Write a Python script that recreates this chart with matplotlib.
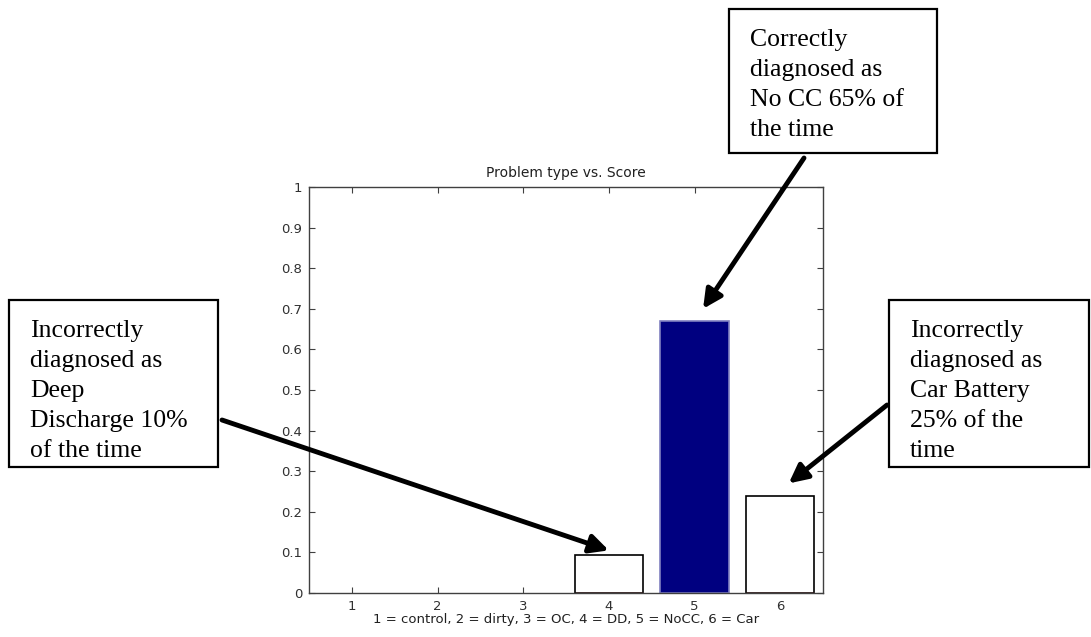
import matplotlib
matplotlib.use("Agg")
import matplotlib.pyplot as plt
from matplotlib.patches import Rectangle

# Data
categories = [1, 2, 3, 4, 5, 6]
scores = [0.0, 0.0, 0.0, 0.093, 0.67, 0.24]
bar_fills = ["white", "white", "white", "white", "#000080", "white"]
bar_edges = ["black", "black", "black", "black", "#8080c0", "black"]
yticks = [0, 0.1, 0.2, 0.3, 0.4, 0.5, 0.6, 0.7, 0.8, 0.9, 1]
ytick_labels = ["0", "0.1", "0.2", "0.3", "0.4", "0.5", "0.6", "0.7", "0.8", "0.9", "1"]
title = "Problem type vs. Score"
xlabel = "1 = control, 2 = dirty, 3 = OC, 4 = DD, 5 = NoCC, 6 = Car"

callouts = [
    ["Correctly", "diagnosed as", "No CC 65% of", "the time"],
    ["Incorrectly", "diagnosed as", "Deep", "Discharge 10%", "of the time"],
    ["Incorrectly", "diagnosed as", "Car Battery", "25% of the", "time"],
]
# arrow targets in data coordinates (category, score)
arrow_targets = [(5.1, 0.70), (4.0, 0.105), (6.1, 0.27)]

W, H = 1091, 637
fig = plt.figure(figsize=(W / 100, H / 100), dpi=100)


def fx(px):
    return px / W


def fy(py):
    return 1 - py / H


axis_col = "#404040"
ax = fig.add_axes([fx(309), fy(593), fx(823) - fx(309), fy(187) - fy(593)])
widths = [1.2 if s > 0 else 0 for s in scores]
ax.bar(categories, scores, width=0.8, color=bar_fills,
       edgecolor=bar_edges, linewidth=widths, zorder=2)
# baseline under the outlined bars
for c, s, f in zip(categories, scores, bar_fills):
    if s > 0 and f == "white":
        ax.hlines(0, c - 0.4, c + 0.4, color="#e06060", lw=0.9, zorder=3)

ax.set_xlim(0.5, 6.5)
ax.set_ylim(0, 1)
ax.set_xticks(categories)
ax.set_yticks(yticks)
ax.set_yticklabels(ytick_labels)
ax.tick_params(direction="in", top=True, right=True, length=4,
               labelsize=9.5, colors=axis_col, labelcolor="#303030", pad=5)
for sp in ax.spines.values():
    sp.set_color(axis_col)
    sp.set_linewidth(1.0)
ax.set_title(title, fontsize=10, color="#202020", pad=7)
ax.set_xlabel(xlabel, fontsize=9.5, color="#202020", labelpad=0)

# Callout boxes (left, top, right, bottom in pixels)
boxes = [(729, 9, 937, 153), (9, 300, 218, 467), (889, 300, 1089, 467)]
tails = [(804, 158), (222, 420), (887, 405)]
for (l, t, r, b), lines in zip(boxes, callouts):
    fig.patches.append(Rectangle((fx(l), fy(b)), fx(r) - fx(l), fy(t) - fy(b),
                                 transform=fig.transFigure, facecolor="white",
                                 edgecolor="black", linewidth=1.6))
    for i, line in enumerate(lines):
        fig.text(fx(l + 21), fy(t + 37 + 30 * i), line, ha="left",
                 va="baseline", family="Liberation Serif", fontsize=18.5,
                 color="black")

for (tx, ty), (dx, dy) in zip(tails, arrow_targets):
    ax.annotate("", xy=(dx, dy), xycoords="data",
                xytext=(fx(tx), fy(ty)), textcoords="figure fraction",
                arrowprops=dict(arrowstyle="-|>", lw=3.5, color="black",
                                mutation_scale=28, shrinkA=0, shrinkB=0),
                annotation_clip=False)

fig.savefig("out.png", dpi=100, facecolor="white")
